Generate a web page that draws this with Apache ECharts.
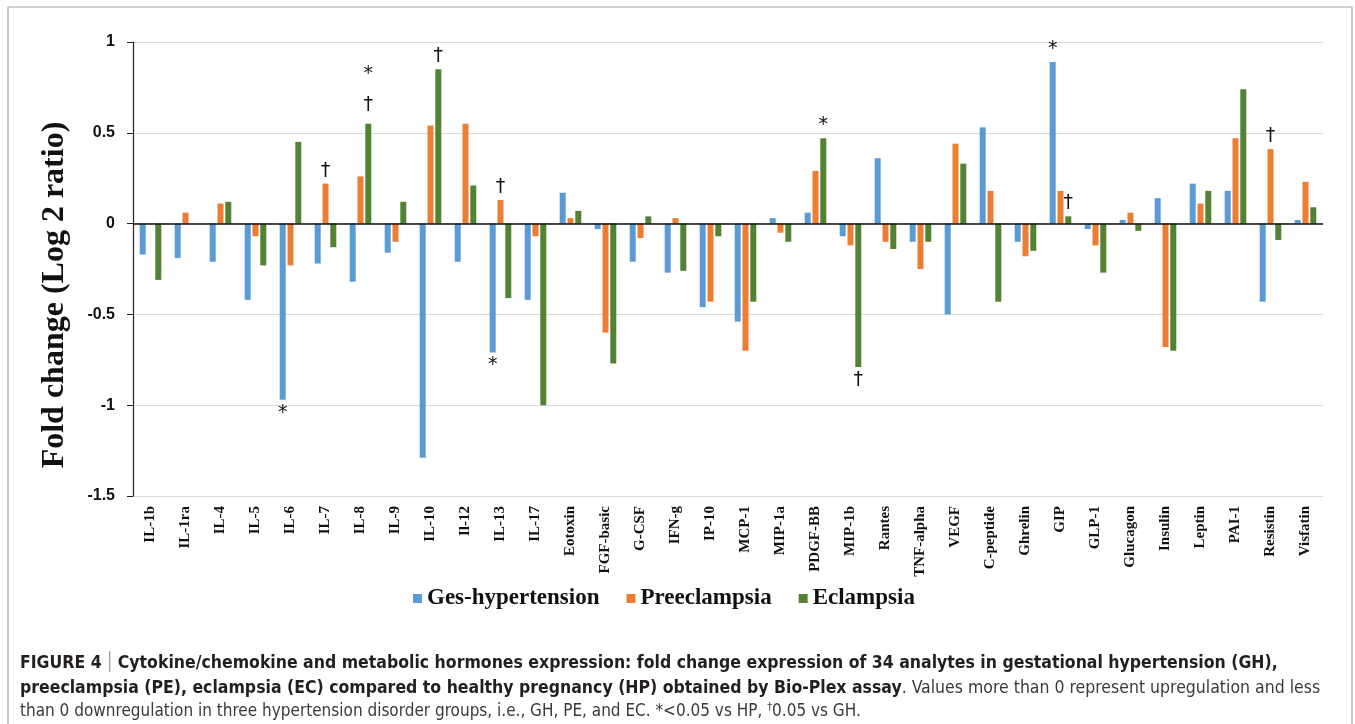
<!DOCTYPE html>
<html>
<head>
<meta charset="utf-8">
<script src="https://cdn.jsdelivr.net/npm/echarts@6/dist/echarts.min.js"></script>
<style>
  html, body { margin: 0; padding: 0; background: #fff; }
  #main { width: 1355px; height: 724px; }
</style>
</head>
<body>
<div id="main"></div>
<script>
// analytes on the x axis
var categories = ['IL-1b', 'IL-1ra', 'IL-4', 'IL-5', 'IL-6', 'IL-7', 'IL-8', 'IL-9', 'IL-10', 'Il-12', 'IL-13', 'IL-17',
    'Eotoxin', 'FGF-basic', 'G-CSF', 'IFN-g', 'IP-10', 'MCP-1', 'MIP-1a', 'PDGF-BB', 'MIP-1b', 'Rantes', 'TNF-alpha',
    'VEGF', 'C-peptide', 'Ghrelin', 'GIP', 'GLP-1', 'Glucagon', 'Insulin', 'Leptin', 'PAI-1', 'Resistin', 'Visfatin'];

// fold change (log2 ratio) per group
var gesHypertension = [-0.17, -0.19, -0.21, -0.42, -0.97, -0.22, -0.32, -0.16, -1.29, -0.21, -0.71, -0.42,
    0.17, -0.03, -0.21, -0.27, -0.46, -0.54, 0.03, 0.06, -0.07, 0.36, -0.10,
    -0.50, 0.53, -0.10, 0.89, -0.03, 0.02, 0.14, 0.22, 0.18, -0.43, 0.02];
var preeclampsia = [0, 0.06, 0.11, -0.07, -0.23, 0.22, 0.26, -0.10, 0.54, 0.55, 0.13, -0.07,
    0.03, -0.60, -0.08, 0.03, -0.43, -0.70, -0.05, 0.29, -0.12, -0.10, -0.25,
    0.44, 0.18, -0.18, 0.18, -0.12, 0.06, -0.68, 0.11, 0.47, 0.41, 0.23];
var eclampsia = [-0.31, 0, 0.12, -0.23, 0.45, -0.13, 0.55, 0.12, 0.85, 0.21, -0.41, -1.00,
    0.07, -0.77, 0.04, -0.26, -0.07, -0.43, -0.10, 0.47, -0.79, -0.14, -0.10,
    0.33, -0.43, -0.15, 0.04, -0.27, -0.04, -0.70, 0.18, 0.74, -0.09, 0.09];

// significance marks (category index -> text)
var ghNotes = { 4: '*', 10: '*', 26: '*' };
var peNotes = { 5: '†', 10: '†', 32: '†' };
var ecNotes = { 6: '*\n†', 8: '†', 19: '*', 20: '†', 26: '†' };

var yTicks = [-1.5, -1, -0.5, 0, 0.5, 1];

function withNotes(values, notes) {
    return values.map(function (v, i) {
        if (!notes[i]) return v;
        var multi = notes[i].indexOf('\n') >= 0;
        return {
            value: v,
            label: {
                show: true,
                position: v < 0 ? 'bottom' : 'top',
                distance: 3,
                formatter: notes[i],
                fontSize: 19,
                lineHeight: multi ? 31 : 20,
                color: '#111',
                fontFamily: 'DejaVu Sans, sans-serif'
            }
        };
    });
}

var serif = '"Liberation Serif", "Times New Roman", serif';
var narrow = '"Liberation Sans Narrow", "DejaVu Sans Condensed", "Liberation Sans", sans-serif';

var chart = echarts.init(document.getElementById('main'));
var option = {
    animation: false,
    backgroundColor: '#fff',
    color: ['#5b9bd5', '#ed7d31', '#548235'],
    grid: { left: 133, right: 32, top: 42, bottom: 228 },
    legend: {
        data: ['Ges-hypertension', 'Preeclampsia', 'Eclampsia'],
        left: 408,
        top: 582,
        icon: 'rect',
        itemWidth: 9,
        itemHeight: 9,
        itemGap: 27,
        textStyle: { fontFamily: serif, fontWeight: 'bold', fontSize: 23, color: '#111' }
    },
    xAxis: {
        type: 'category',
        data: categories,
        axisLine: { show: false },
        axisTick: { show: false },
        axisLabel: {
            interval: 0,
            rotate: 90,
            margin: 10,
            fontFamily: serif,
            fontWeight: 'bold',
            fontSize: 15,
            color: '#111'
        }
    },
    yAxis: {
        type: 'value',
        min: -1.5,
        max: 1,
        interval: 0.5,
        axisLine: { show: true, lineStyle: { color: '#222', width: 1.2 } },
        axisTick: { show: true, length: 6, lineStyle: { color: '#222' } },
        axisLabel: {
            margin: 18,
            fontFamily: '"Liberation Sans", Arial, sans-serif',
            fontWeight: 'bold',
            fontSize: 16,
            color: '#111',
            formatter: function (v) { return yTicks.indexOf(v) >= 0 ? String(v) : ''; }
        },
        splitLine: { lineStyle: { color: '#d9d9d9', width: 1.2 } }
    },
    series: [
        {
            name: 'Ges-hypertension',
            type: 'bar',
            barWidth: 6,
            barGap: '30%',
            data: withNotes(gesHypertension, ghNotes),
            markLine: {
                silent: true,
                symbol: 'none',
                label: { show: false },
                lineStyle: { color: '#111', type: 'solid', width: 1.5 },
                data: [{ yAxis: 0 }]
            }
        },
        {
            name: 'Preeclampsia',
            type: 'bar',
            barWidth: 6,
            barGap: '30%',
            data: withNotes(preeclampsia, peNotes)
        },
        {
            name: 'Eclampsia',
            type: 'bar',
            barWidth: 6,
            barGap: '30%',
            data: withNotes(eclampsia, ecNotes)
        }
    ],
    graphic: [
        {
            type: 'rect',
            shape: { x: 8, y: 7, width: 1344, height: 730 },
            style: { fill: 'none', stroke: '#a6a6a6', lineWidth: 1.2 },
            silent: true
        },
        {
            type: 'text',
            x: 55,
            y: 295,
            rotation: Math.PI / 2,
            style: {
                text: 'Fold change (Log 2 ratio)',
                fontFamily: serif,
                fontWeight: 'bold',
                fontSize: 32,
                fill: '#111',
                align: 'center',
                verticalAlign: 'middle'
            }
        },
        {
            type: 'text',
            left: 20,
            top: 654,
            style: {
                text: '{b|FIGURE 4} {bar|\u2502} {b|Cytokine/chemokine and metabolic hormones expression: fold change expression of 34 analytes in gestational hypertension (GH),}',
                rich: {
                    b: { fontFamily: narrow, fontWeight: 'bold', fontSize: 17.5, fill: '#231f20' },
                    bar: { fontFamily: narrow, fontSize: 17.5, fill: '#999' }
                }
            }
        },
        {
            type: 'text',
            left: 20,
            top: 679,
            style: {
                text: '{b|preeclampsia (PE), eclampsia (EC) compared to healthy pregnancy (HP) obtained by Bio-Plex assay}{n|. Values more than 0 represent upregulation and less}',
                rich: {
                    b: { fontFamily: narrow, fontWeight: 'bold', fontSize: 17.5, fill: '#231f20' },
                    n: { fontFamily: narrow, fontSize: 17.5, fill: '#3a3a3a' }
                }
            }
        },
        {
            type: 'text',
            left: 20,
            top: 702,
            style: {
                text: '{n|than 0 downregulation in three hypertension disorder groups, i.e., GH, PE, and EC. *<0.05 vs HP, }{s|†}{n|0.05 vs GH.}',
                rich: {
                    n: { fontFamily: narrow, fontSize: 17, fill: '#3a3a3a' },
                    s: { fontFamily: narrow, fontSize: 11, fill: '#3a3a3a', verticalAlign: 'top', padding: [0, 0, 8, 0] }
                }
            }
        }
    ]
};
chart.setOption(option);
</script>
</body>
</html>
